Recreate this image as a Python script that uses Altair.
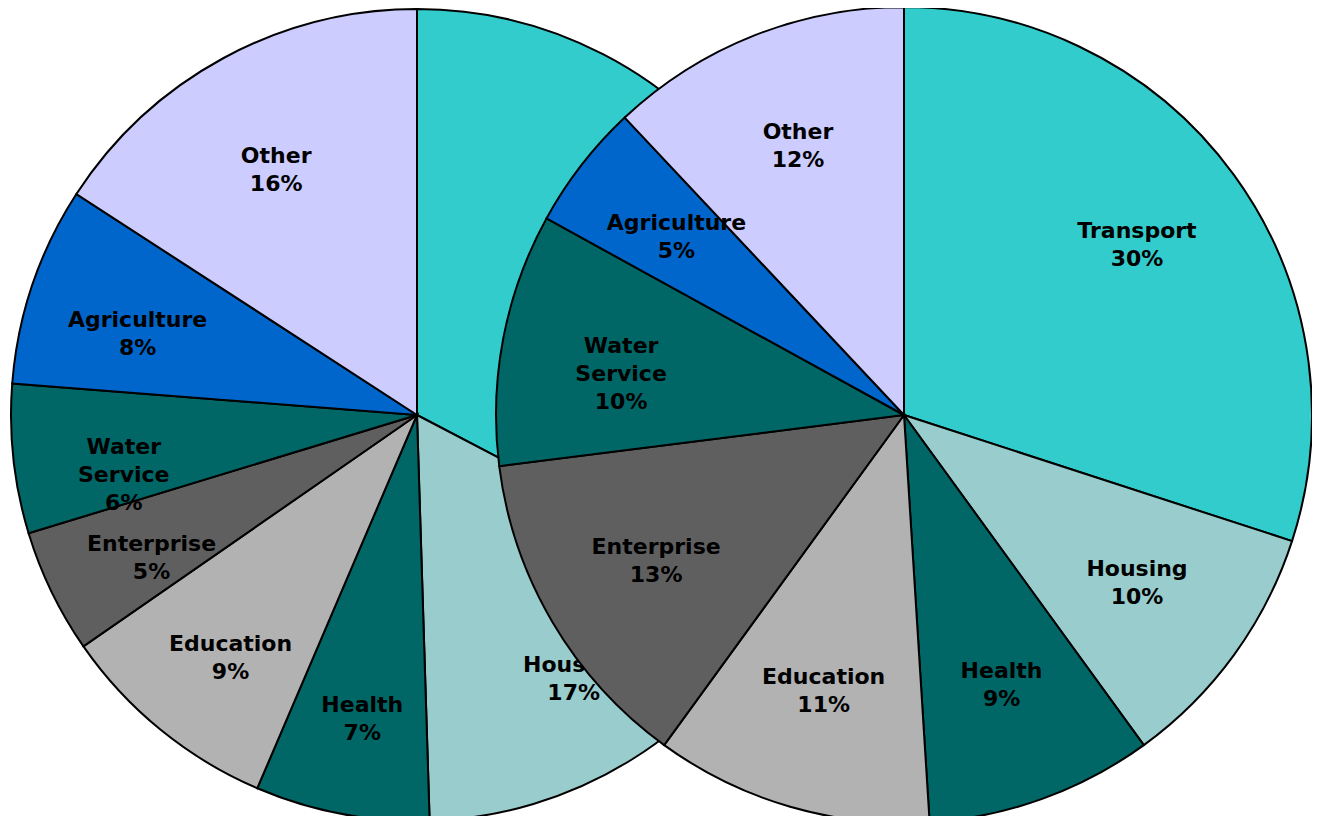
import altair as alt
import pandas as pd

categories = ["Transport", "Housing", "Health", "Education", "Enterprise",
              "Water Service", "Agriculture", "Other"]
left_values = [33, 17, 7, 9, 5, 6, 8, 16]
right_values = [30, 10, 9, 11, 13, 10, 5, 12]
colors = ["#33CCCC", "#99CCCC", "#006666", "#B2B2B2", "#5F5F5F",
          "#006666", "#0066CC", "#CCCCFF"]
# the left pie's Transport label is covered by the right pie in the reference
left_hidden_labels = ["Transport"]


def make_df(values, hidden=()):
    labels = []
    for c, v in zip(categories, values):
        labels.append("" if c in hidden else c.replace(" ", "\n") + "\n" + f"{v}%")
    return pd.DataFrame({
        "category": categories,
        "value": values,
        "order": list(range(len(categories))),
        "label": labels,
    })


color = alt.Color("category:N", scale=alt.Scale(domain=categories, range=colors), legend=None)


def pie(values, cx, cy, r, label_r, dy, hidden=()):
    base = alt.Chart(make_df(values, hidden)).encode(
        theta=alt.Theta("value:Q", stack=True),
        order=alt.Order("order:Q"),
        x=alt.value(cx),
        y=alt.value(cy),
    )
    arcs = base.mark_arc(radius=r, stroke="black", strokeWidth=2).encode(color=color)
    text = base.mark_text(
        radius=label_r, dy=dy, fontSize=22, fontWeight="bold", font="DejaVu Sans",
        lineBreak="\n", lineHeight=28, color="black", align="center", baseline="middle",
    ).encode(text="label:N")
    return arcs, text


la, lt = pie(left_values, 409, 407, 406, 295, 0, left_hidden_labels)
ra, rt = pie(right_values, 896, 407, 408, 288, -15)

chart = alt.layer(la, lt, ra, rt).resolve_scale(theta="independent").properties(
    width=1304, height=808, padding=0,
    autosize=alt.AutoSizeParams(type="none"),
).configure_view(stroke=None)

chart.save("out.html", embed_options={"renderer": "svg", "actions": False})
